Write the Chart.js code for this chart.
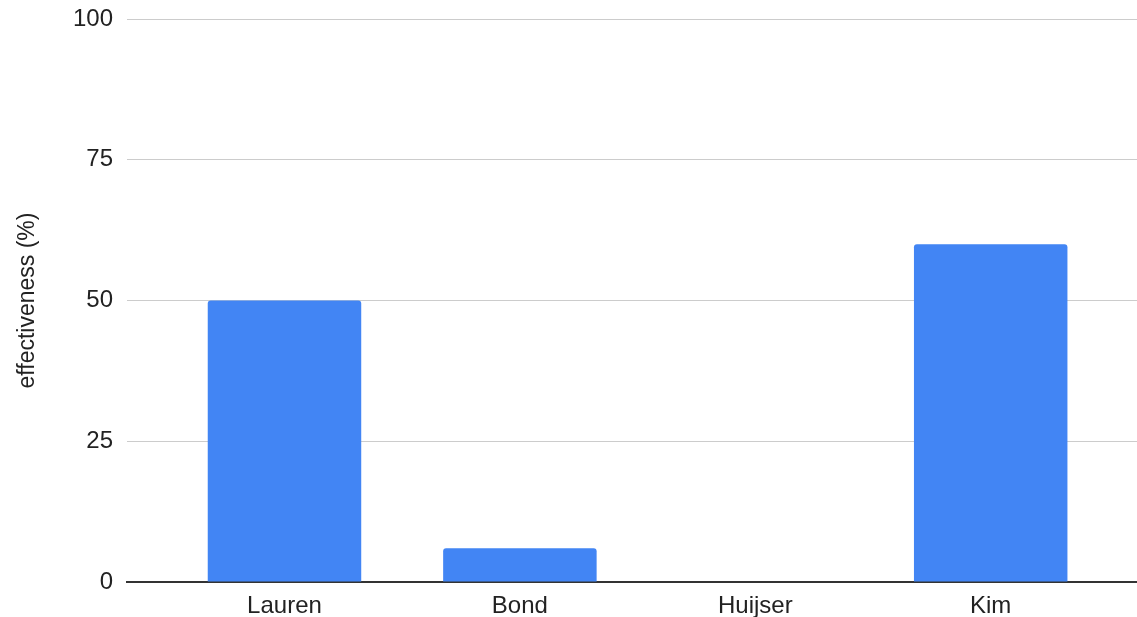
<!DOCTYPE html>
<html>
<head>
<meta charset="utf-8">
<style>
  html, body { margin: 0; padding: 0; background: #fff; }
  #wrap { width: 1137px; height: 617px; position: relative; }
</style>
<script src="https://cdn.jsdelivr.net/npm/chart.js@4/dist/chart.umd.min.js"></script>
</head>
<body>
<div id="wrap"><canvas id="chart" width="1137" height="617"></canvas></div>
<script>
const categories = ['Lauren', 'Bond', 'Huijser', 'Kim'];
const effectiveness = [50, 6, 0, 60];
const yTicks = [0, 25, 50, 75, 100];

const FONT = "'Liberation Sans', Arial, sans-serif";
const TEXT = '#222222';

const points = categories.map((c, i) => ({ x: i, y: effectiveness[i] }));

new Chart(document.getElementById('chart'), {
  type: 'bar',
  data: {
    datasets: [{
      label: 'effectiveness (%)',
      data: points,
      backgroundColor: '#4285f4',
      borderRadius: 3,
      borderSkipped: 'start',
      categoryPercentage: 1,
      barPercentage: 0.652
    }]
  },
  options: {
    responsive: false,
    animation: false,
    layout: { padding: { top: 0, right: 0, bottom: 0, left: 0 } },
    plugins: { legend: { display: false }, tooltip: { enabled: false } },
    scales: {
      x: {
        type: 'linear',
        offset: false,
        min: -0.669,
        max: 3.6215,
        z: 1,
        grid: { display: false, drawTicks: false, offset: false },
        border: { display: true, color: '#333333', width: 2 },
        afterBuildTicks: (scale) => {
          scale.ticks = categories.map((c, i) => ({ value: i }));
        },
        afterFit: (scale) => { scale.height = 35; },
        ticks: {
          autoSkip: false,
          maxRotation: 0,
          padding: 10,
          color: TEXT,
          font: { family: FONT, size: 24 },
          callback: (v) => categories[v] ?? ''
        }
      },
      y: {
        min: 0,
        max: 100,
        afterBuildTicks: (scale) => {
          scale.ticks = yTicks.map(v => ({ value: v }));
        },
        afterFit: (scale) => { scale.width = 127; },
        grid: { color: '#cccccc', lineWidth: 1, drawTicks: false },
        border: { display: false },
        ticks: {
          padding: 14,
          color: TEXT,
          font: { family: FONT, size: 24, lineHeight: 0.42 }
        },
        title: {
          display: true,
          text: 'effectiveness (%)',
          color: TEXT,
          font: { family: FONT, size: 23 },
          padding: { top: 14, bottom: 0 }
        }
      }
    }
  }
});
</script>
</body>
</html>
